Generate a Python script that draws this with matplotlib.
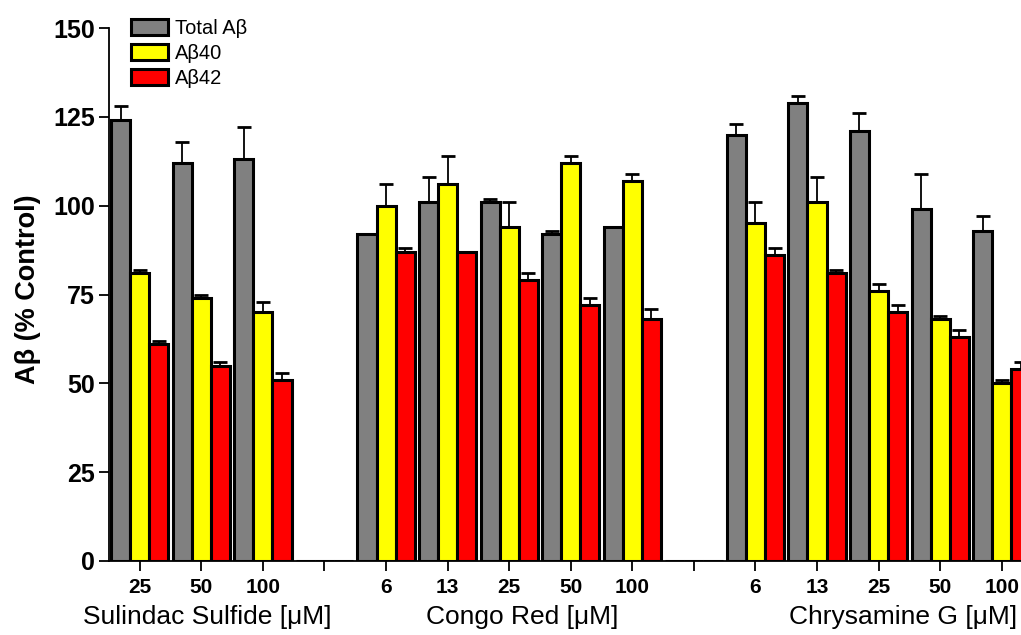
import matplotlib
matplotlib.use("Agg")
import matplotlib.pyplot as plt
import numpy as np

plt.rcParams['font.family'] = ['Liberation Sans', 'DejaVu Sans']

# 15 slots: 3 sulindac, 1 empty, 5 congo red, 1 empty, 5 chrysamine G
tick_labels = ['25', '50', '100', '', '6', '13', '25', '50', '100', '', '6', '13', '25', '50', '100']
group_names = ['Sulindac Sulfide [\u03bcM]', 'Congo Red [\u03bcM]', 'Chrysamine G [\u03bcM]']
series_names = ['Total A\u03b2', 'A\u03b240', 'A\u03b242']

total_ab = [124, 112, 113, 0, 92, 101, 101, 92, 94, 0, 120, 129, 121, 99, 93]
total_err = [4, 6, 9, 0, 0, 7, 1, 1, 0, 0, 3, 2, 5, 10, 4]
ab40 = [81, 74, 70, 0, 100, 106, 94, 112, 107, 0, 95, 101, 76, 68, 50]
ab40_err = [1, 1, 3, 0, 6, 8, 7, 2, 2, 0, 6, 7, 2, 1, 1]
ab42 = [61, 55, 51, 0, 87, 87, 79, 72, 68, 0, 86, 81, 70, 63, 54]
ab42_err = [1, 1, 2, 0, 1, 0, 2, 2, 3, 0, 2, 1, 2, 2, 2]

colors = ['#808080', '#ffff00', '#ff0000']

fig = plt.figure(figsize=(10.21, 6.35), dpi=100)
ax = fig.add_axes([109 / 1021, 74 / 635, 1 - 109 / 1021 + 0.001, (561 - 28) / 635])

x = np.arange(len(tick_labels))
w = 0.31
handles = []
for k, (vals, errs) in enumerate([(total_ab, total_err), (ab40, ab40_err), (ab42, ab42_err)]):
    pos = x + (k - 1) * w
    b = ax.bar(pos, vals, width=w, color=colors[k], edgecolor='black', linewidth=2.2,
               label=series_names[k], zorder=2)
    handles.append(b)
    vals = np.array(vals)
    errs = np.array(errs)
    m = errs > 0
    ax.errorbar(pos[m], vals[m], yerr=[np.zeros(m.sum()), errs[m]], fmt='none',
                ecolor='black', elinewidth=1.3, capsize=5, capthick=2, zorder=1)

ax.set_xlim(-0.5, 14.33)
ax.set_ylim(0, 150)
ax.set_yticks([0, 25, 50, 75, 100, 125, 150])
ax.set_xticks(x)
ax.set_xticklabels(tick_labels, fontsize=15, fontweight='bold')
for lab in ax.get_yticklabels():
    lab.set_fontsize(18)
    lab.set_fontweight('bold')
ax.spines['top'].set_visible(False)
ax.spines['right'].set_visible(False)
ax.spines['left'].set_linewidth(1.3)
ax.spines['bottom'].set_linewidth(1.3)
ax.tick_params(axis='y', length=7, width=1.3, pad=3)
ax.tick_params(axis='x', length=7, width=1.3, pad=5)

ax.set_ylabel('A\u03b2 (% Control)', fontsize=19.5, fontweight='bold')
ax.yaxis.set_label_coords(-68 / 912, 0.51)

group_x = [1.10, 6.21, 12.39]
for gx, name in zip(group_x, group_names):
    ax.text(gx, -0.105, name, transform=ax.get_xaxis_transform(), ha='center', va='center',
            fontsize=19)

leg = fig.legend(handles=handles, labels=series_names, loc='upper left',
                 bbox_to_anchor=(117 / 1021, 1 - 5 / 635), frameon=False, fontsize=14.5,
                 handlelength=1.85, handleheight=0.85, handletextpad=0.35, labelspacing=0.3,
                 borderpad=0.2)

fig.savefig('out.png', dpi=100)
